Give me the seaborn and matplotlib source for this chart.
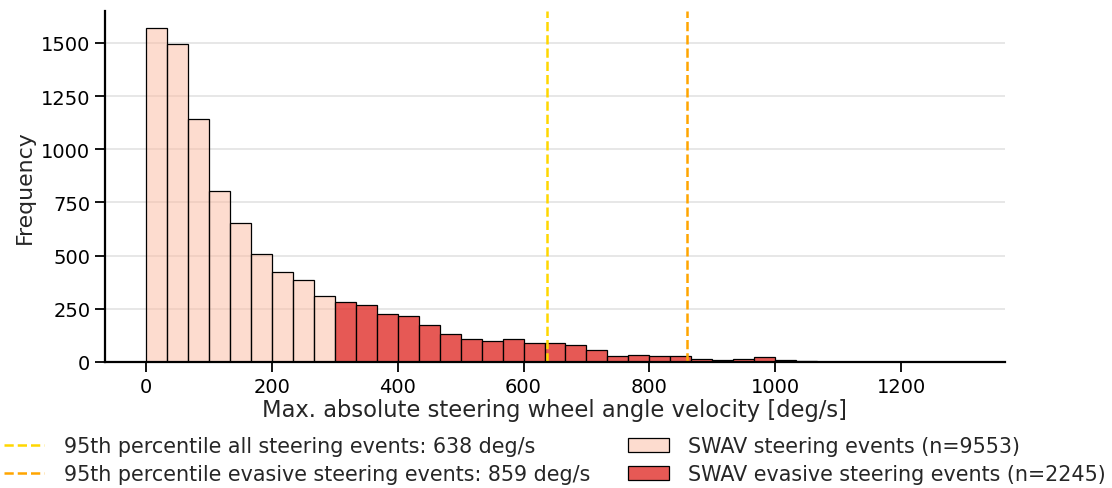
import numpy as np
import pandas as pd
import matplotlib
matplotlib.use("Agg")
import matplotlib.pyplot as plt
import seaborn as sns
from matplotlib.lines import Line2D
from matplotlib.patches import Patch

# ---- data ----
bin_width = 100 / 3
all_counts = [1570, 1494, 1144, 805, 652, 506, 422, 387, 310]          # bins 0..300
evasive_counts = [280, 270, 227, 218, 174, 132, 107, 99, 107, 89, 89, 82,
                  56, 30, 35, 30, 30, 14, 9, 16, 22, 9, 5, 2, 2]          # bins 300..1133
evasive_start_bin = 9
p95_all = 638
p95_evasive = 859
label_all = "SWAV steering events (n=9553)"
label_evasive = "SWAV evasive steering events (n=2245)"
label_p95_all = "95th percentile all steering events: 638 deg/s"
label_p95_evasive = "95th percentile evasive steering events: 859 deg/s"
xlabel = "Max. absolute steering wheel angle velocity [deg/s]"
ylabel = "Frequency"
xticks = [0, 200, 400, 600, 800, 1000, 1200]
yticks = [0, 250, 500, 750, 1000, 1250, 1500]

# ---- derived bin geometry ----
n_all = len(all_counts)
edges_all = list(np.arange(n_all + 1) * bin_width)
df_all = pd.DataFrame({"v": [(edges_all[i] + edges_all[i + 1]) / 2 for i in range(n_all)],
                       "w": all_counts})
n_ev = len(evasive_counts)
edges_ev = list((np.arange(n_ev + 1) + evasive_start_bin) * bin_width)
df_ev = pd.DataFrame({"v": [(edges_ev[i] + edges_ev[i + 1]) / 2 for i in range(n_ev)],
                      "w": evasive_counts})

sns.set_theme(style="ticks", context="notebook")
plt.rcParams["font.family"] = ["DejaVu Sans"]

light_color = "#fcbba1"
red_color = "#e0302a"
gold = "#FFD700"
orange = "#FFA500"

fig = plt.figure(figsize=(11.12, 4.89), dpi=100)
ax = fig.add_axes([0.0944, 0.2577, 0.9038 - 0.0944, 0.9755 - 0.2577])

sns.histplot(data=df_all, x="v", weights="w", bins=edges_all, ax=ax,
             color=light_color, alpha=0.5, edgecolor="black", linewidth=0.9)
sns.histplot(data=df_ev, x="v", weights="w", bins=edges_ev, ax=ax,
             color=red_color, alpha=0.8, edgecolor="black", linewidth=0.9)

ax.axvline(p95_all, color=gold, ls="--", lw=1.8)
ax.axvline(p95_evasive, color=orange, ls="--", lw=1.8)

ax.set_xlim(-65, 1365)
ax.set_ylim(0, 1650)
ax.set_xticks(xticks)
ax.set_yticks(yticks)
ax.yaxis.grid(True, color="#e3e3e3", lw=1.2)
ax.set_axisbelow(True)
ax.tick_params(labelsize=14, length=7, width=1.3, colors="black")
ax.set_xlabel(xlabel, fontsize=16.3, labelpad=2)
ax.set_ylabel(ylabel, fontsize=15.8)
for s in ["left", "bottom"]:
    ax.spines[s].set_linewidth(1.6)
    ax.spines[s].set_color("black")
sns.despine(ax=ax)

handles = [
    Line2D([0], [0], color=gold, ls="--", lw=1.8),
    Line2D([0], [0], color=orange, ls="--", lw=1.8),
    Patch(facecolor=matplotlib.colors.to_rgba(light_color, 0.5), edgecolor="black", lw=0.9),
    Patch(facecolor=matplotlib.colors.to_rgba(red_color, 0.8), edgecolor="black", lw=0.9),
]
labels = [label_p95_all, label_p95_evasive, label_all, label_evasive]
ax.legend(handles, labels, ncol=2, loc="upper center", bbox_to_anchor=(0.5, -0.158),
          frameon=False, fontsize=14.9, columnspacing=1.85, handlelength=1.95,
          handletextpad=0.95, labelspacing=0.4)

fig.savefig("out.png", dpi=100)
